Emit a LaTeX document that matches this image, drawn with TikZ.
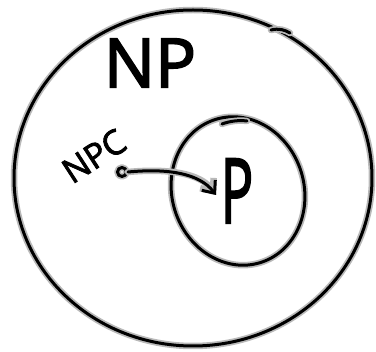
\documentclass[tikz,border=0pt]{standalone}
\usepackage{fontspec}
\setmainfont{Open Sans}
\newfontfamily\handfont[FakeBold=2.5]{Open Sans}
\usetikzlibrary{shapes.geometric,arrows.meta}
\tikzset{
  ink/.style={preaction={draw=gray!55, line width=6.5pt, line cap=round, line join=round},
              draw=black, line width=3pt, line cap=round, line join=round},
  lbl/.style={inner sep=0pt, text=black},
}
\begin{document}
\begin{tikzpicture}[x=1pt,y=-1pt]
\useasboundingbox (0,0) rectangle (376,352);
% big set NP
\node[ink, ellipse, minimum width=358pt, minimum height=336pt, inner sep=0pt] (np) at (193,178) {};
\draw[ink] (271,30) .. controls (279,28) and (285,30) .. (290,33);
% small set P
\node[ink, ellipse, minimum width=132pt, minimum height=150pt, inner sep=0pt, rotate=18] (p) at (238,191) {};
\draw[ink] (222,124) .. controls (230,121) and (239,120) .. (247,121);
% labels
\node[lbl, font=\handfont\fontsize{68}{68}\selectfont] (nplabel) at (150,63) {NP};
\node[lbl, font=\handfont\fontsize{90}{90}\selectfont, xscale=0.6] (plabel) at (237,191) {P};
\node[lbl, font=\handfont\fontsize{34}{34}\selectfont, rotate=33] (npc) at (94,156) {NPC};
% problem dot and reduction arrow
\node[ink, circle, minimum size=9pt, inner sep=0pt] (dot) at (122,172) {};
\coordinate (tip) at (216,195);
\draw[ink, -{Straight Barb[length=10pt,width=17pt]}] (dot.east) .. controls (170,168) and (200,174) .. (tip);
\end{tikzpicture}
\end{document}
